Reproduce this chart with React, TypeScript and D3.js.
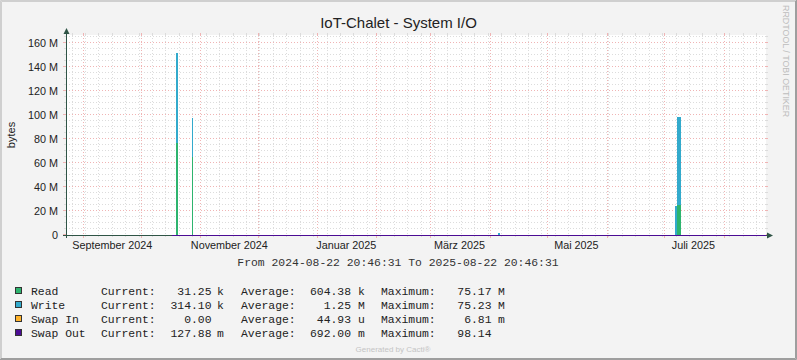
import React from 'react';
import * as d3 from 'd3';

const W = 797, H = 360;
const PLOT = { left: 66, top: 35, width: 700, height: 200 };

const RANGE_START = '2024-08-22 20:46';
const RANGE_END = '2025-08-22 20:46';
const Y_MAX = 166.67e6;

// daily averages, bytes (bin start)
const READ: [string, number][] = [
  ['2024-10-19 02:00', 76.5e6],
  ['2024-10-27 02:00', 65e6],
  ['2025-07-07 02:00', 25e6],
  ['2025-07-08 02:00', 25e6],
];
const WRITE: [string, number][] = [
  ['2024-10-19 02:00', 75.5e6],
  ['2024-10-27 02:00', 32.5e6],
  ['2025-04-05 02:00', 1.6e6],
  ['2025-07-06 02:00', 24e6],
  ['2025-07-07 02:00', 73.5e6],
  ['2025-07-08 02:00', 73.5e6],
];
const SWAP_OUT: [string, number][] = [
  ['2024-10-17 02:00', 0.69],
  ['2025-08-22 20:46', 0.69],
];

const MONTH_LABELS: [string, string][] = [
  ['2024-09-01 00:00', 'September 2024'],
  ['2024-11-01 00:00', 'November 2024'],
  ['2025-01-01 00:00', 'Januar 2025'],
  ['2025-03-01 00:00', 'März 2025'],
  ['2025-05-01 00:00', 'Mai 2025'],
  ['2025-07-01 00:00', 'Juli 2025'],
];

const LEGEND_NAMES = ['Read', 'Write', 'Swap In', 'Swap Out'];
const LEGEND_COLORS = ['#2DB46E', '#32AACC', '#FFB32B', '#4B0C94'];
const CURRENT = [['31.25', 'k'], ['314.10', 'k'], ['0.00', ''], ['127.88', 'm']];
const AVERAGE = [['604.38', 'k'], ['1.25', 'M'], ['44.93', 'u'], ['692.00', 'm']];
const MAXIMUM = [['75.17', 'M'], ['75.23', 'M'], ['6.81', 'm'], ['98.14', '']];

const SANS = '"Liberation Sans", Arial, sans-serif';
const MONO = '"Liberation Mono", "Courier New", monospace';
const AXIS_COL = '#2F5446';
const GRID_COL = '#dcdcdc';
const MGRID_COL = '#f0b4b4';

export default function App() {
  const parse = d3.timeParse('%Y-%m-%d %H:%M');
  const t0 = parse(RANGE_START)!, t1 = parse(RANGE_END)!;
  const x = d3.scaleTime().domain([t0, t1]).range([PLOT.left, PLOT.left + PLOT.width]);
  const y = d3.scaleLinear().domain([0, Y_MAX]).range([PLOT.top + PLOT.height, PLOT.top]);
  const X0 = PLOT.left, X1 = PLOT.left + PLOT.width;
  const Y0 = PLOT.top + PLOT.height, Y1 = PLOT.top;

  const minorY = d3.range(5e6, Y_MAX, 5e6).filter(v => v % 20e6 !== 0);
  const majorY = d3.range(0, Y_MAX, 20e6);
  const minorX = d3.timeMonday.range(t0, t1);
  const majorX = d3.timeMonth.range(t0, t1);

  const readMap = new Map(READ);
  // rrdtool paints whole pixel columns per bin
  const bin = (s: string) => {
    const a = parse(s)!;
    return [Math.ceil(x(a)), Math.ceil(x(d3.timeDay.offset(a, 1)))];
  };

  const swapLine = d3.line<[string, number]>()
    .x(d => x(parse(d[0])!))
    .y(d => Math.round(y(d[1])) + 0.5);

  const rowY = (i: number) => 294.7 + i * 14;

  return (
    <svg width={W} height={H} style={{ position: 'absolute', left: 0, top: 0 }}>
      <rect x={0} y={0} width={W} height={H} fill="#f3f3f3" />
      {/* frame shading */}
      <path d={`M0.5,${H} V0.5 H${W}`} stroke="#cfcfcf" strokeWidth={1} fill="none" />
      <path d={`M1.5,${H - 1} V1.5 H${W - 1}`} stroke="#cfcfcf" strokeWidth={1} fill="none" />
      <path d={`M0,${H - 0.5} H${W - 0.5} V0`} stroke="#9e9e9e" strokeWidth={1} fill="none" />
      <path d={`M1,${H - 1.5} H${W - 1.5} V1`} stroke="#9e9e9e" strokeWidth={1} fill="none" />

      <rect x={X0} y={Y1} width={PLOT.width} height={PLOT.height} fill="#ffffff" />

      {/* grid */}
      <g shapeRendering="crispEdges">
        {minorY.map(v => {
          const yy = Math.round(y(v)) - 0.5;
          return (
            <g key={'my' + v} stroke={GRID_COL}>
              <line x1={X0 - 2} x2={X0} y1={yy} y2={yy} />
              <line x1={X1} x2={X1 + 2} y1={yy} y2={yy} />
              <line x1={X0} x2={X1} y1={yy} y2={yy} strokeDasharray="1,2" />
            </g>
          );
        })}
        {minorX.map(d => {
          const xx = Math.floor(x(d)) + 0.5;
          return (
            <g key={'mx' + +d} stroke={GRID_COL}>
              <line x1={xx} x2={xx} y1={Y0} y2={Y0 + 2} />
              <line x1={xx} x2={xx} y1={Y1 - 2} y2={Y1} />
              <line x1={xx} x2={xx} y1={Y1} y2={Y0} strokeDasharray="1,2" />
            </g>
          );
        })}
        {majorY.map(v => {
          const yy = Math.round(y(v)) - 0.5;
          return (
            <g key={'My' + v} stroke={MGRID_COL}>
              <line x1={X0 - 3} x2={X0} y1={yy} y2={yy} />
              <line x1={X1} x2={X1 + 2} y1={yy} y2={yy} />
              {v > 0 && <line x1={X0} x2={X1} y1={yy} y2={yy} strokeDasharray="1,2" />}
            </g>
          );
        })}
        {majorX.map(d => {
          const xx = Math.floor(x(d)) + 0.5;
          return (
            <g key={'Mx' + +d} stroke={MGRID_COL}>
              <line x1={xx} x2={xx} y1={Y0} y2={Y0 + 3} />
              <line x1={xx} x2={xx} y1={Y1 - 2} y2={Y1} />
              <line x1={xx} x2={xx} y1={Y1} y2={Y0} strokeDasharray="1,2" />
            </g>
          );
        })}
      </g>

      {/* data: read area, write stacked on read */}
      <g shapeRendering="crispEdges">
        {READ.map(([t, v]) => {
          const [a, b] = bin(t);
          return <rect key={'r' + t} x={a} width={b - a} y={y(v)} height={y(0) - y(v)} fill={LEGEND_COLORS[0]} />;
        })}
        {WRITE.map(([t, v]) => {
          const [a, b] = bin(t);
          const base = readMap.get(t) ?? 0;
          return <rect key={'w' + t} x={a} width={b - a} y={y(base + v)} height={y(base) - y(base + v)} fill={LEGEND_COLORS[1]} />;
        })}
      </g>

      {/* axes */}
      <g shapeRendering="crispEdges" stroke={AXIS_COL}>
        <line x1={X0 + 0.5} x2={X0 + 0.5} y1={Y0 + 3} y2={Y1 - 4} />
        <line x1={X0 - 3} x2={X1 + 3} y1={Y0 + 0.5} y2={Y0 + 0.5} />
      </g>
      <path d={swapLine(SWAP_OUT) ?? ''} stroke={LEGEND_COLORS[3]} strokeWidth={1} fill="none" shapeRendering="crispEdges" />
      <polygon points={`${X0 + 0.5},${Y1 - 7} ${X0 - 2.5},${Y1 - 1} ${X0 + 3.5},${Y1 - 1}`} fill={AXIS_COL} />
      <polygon points={`${X1 + 7},${Y0 + 0.5} ${X1 + 1},${Y0 - 2.5} ${X1 + 1},${Y0 + 3.5}`} fill={AXIS_COL} />

      {/* y tick labels */}
      {majorY.map(v => (
        <text key={'yl' + v} x={58} y={y(v) + 4} textAnchor="end" fontFamily={SANS} fontSize={10.8} fill="#222">
          {v === 0 ? '0' : `${v / 1e6} M`}
        </text>
      ))}
      <text transform={`translate(15,${(Y0 + Y1) / 2}) rotate(-90)`} textAnchor="middle" fontFamily={SANS} fontSize={11} fill="#222">bytes</text>

      {/* x labels */}
      {MONTH_LABELS.map(([d, label]) => (
        <text key={label} x={x(d3.timeDay.offset(parse(d)!, 15))} y={249} textAnchor="middle" fontFamily={SANS} fontSize={10.8} fill="#222">
          {label}
        </text>
      ))}

      <text x={W / 2} y={28} textAnchor="middle" fontFamily={SANS} fontSize={15} fill="#222">IoT-Chalet - System I/O</text>
      <text x={398} y={266} textAnchor="middle" fontFamily={MONO} fontSize={11.4} fill="#333">
        From 2024-08-22 20:46:31 To 2025-08-22 20:46:31
      </text>

      {/* legend */}
      {LEGEND_NAMES.map((name, i) => (
        <g key={name} fontFamily={MONO} fontSize={11.4} fill="#222">
          <rect x={15.5} y={rowY(i) - 7.2} width={6} height={6} fill={LEGEND_COLORS[i]} stroke="#333" strokeWidth={1} shapeRendering="crispEdges" />
          <text x={31} y={rowY(i)}>{name}</text>
          <text x={101} y={rowY(i)}>Current:</text>
          <text x={211.5} y={rowY(i)} textAnchor="end">{CURRENT[i][0]}</text>
          <text x={217} y={rowY(i)}>{CURRENT[i][1]}</text>
          <text x={241} y={rowY(i)}>Average:</text>
          <text x={351} y={rowY(i)} textAnchor="end">{AVERAGE[i][0]}</text>
          <text x={358} y={rowY(i)}>{AVERAGE[i][1]}</text>
          <text x={381} y={rowY(i)}>Maximum:</text>
          <text x={491.5} y={rowY(i)} textAnchor="end">{MAXIMUM[i][0]}</text>
          <text x={498} y={rowY(i)}>{MAXIMUM[i][1]}</text>
        </g>
      ))}

      <text x={393} y={352} textAnchor="middle" fontFamily={SANS} fontSize={8} fill="#c4c4c4">Generated by Cacti®</text>
      <text transform="translate(783,5) rotate(90)" fontFamily={SANS} fontSize={8.9} fill="#bdbdbd">RRDTOOL / TOBI OETIKER</text>
    </svg>
  );
}
